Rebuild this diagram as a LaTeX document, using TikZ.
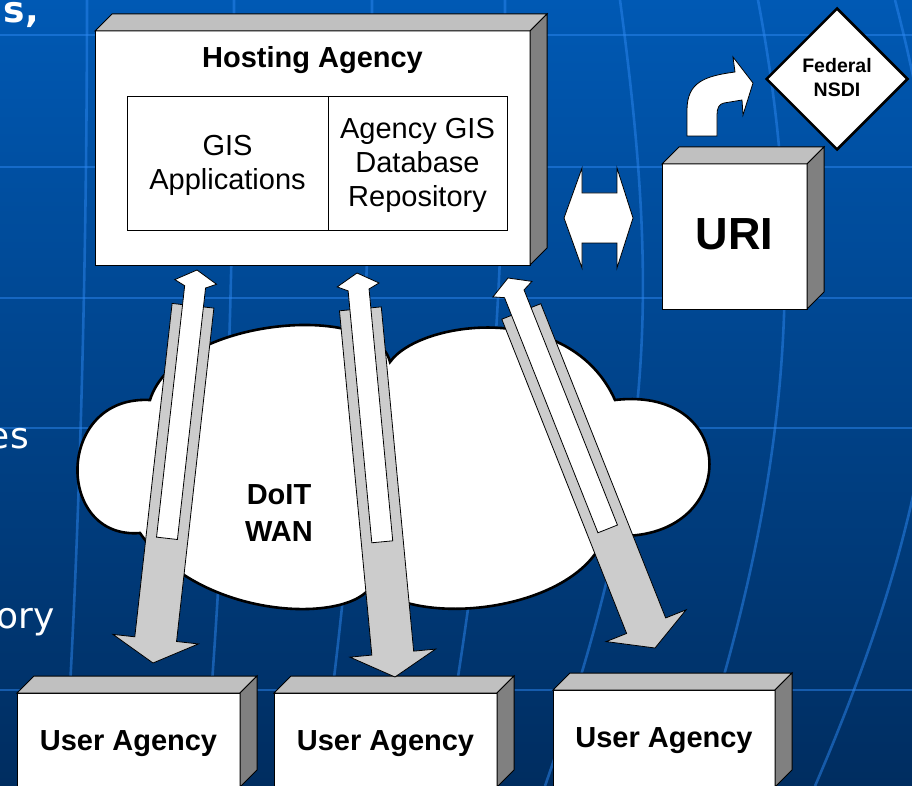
\documentclass[tikz,border=0pt]{standalone}
\usepackage{fontspec}
\setmainfont{Liberation Sans}
\newfontfamily\slidefont{DejaVu Sans}
\usetikzlibrary{calc,shapes.geometric}

\definecolor{bgtop}{RGB}{0,89,180}
\definecolor{bgmid}{RGB}{0,66,138}
\definecolor{bgbot}{RGB}{0,45,96}
\definecolor{gridblue}{RGB}{45,135,240}
\definecolor{facetop}{RGB}{192,192,192}
\definecolor{faceside}{RGB}{128,128,128}
\definecolor{railgray}{RGB}{204,204,204}

\tikzset{
  outline/.style={draw=black, line width=1pt, line join=miter},
  frontface/.style={outline, fill=white, inner sep=0pt, outer sep=0pt},
  topface/.style={outline, fill=facetop},
  sideface/.style={outline, fill=faceside},
  gridline/.style={draw=gridblue, line width=2.6pt, opacity=0.5},
  txt/.style={font=\fontsize{29}{34}\selectfont, inner sep=0pt, anchor=base},
  boldtxt/.style={txt, font=\bfseries\fontsize{29}{34}\selectfont},
  slidetext/.style={text=white, inner sep=0pt, anchor=base east, font=\slidefont\fontsize{36}{40}\selectfont},
  downarrow/.style={outline, line width=0.8pt, fill=railgray},
  uparrow/.style={outline, line width=0.8pt, fill=white},
  blockarrow/.style={outline, line width=0.8pt, fill=white},
  cloudshape/.style={draw=black, line width=2.6pt, fill=white},
}

% front face node plus top and right faces of a raised box
\newcommand\solidbox[5]{%
  \node[frontface, minimum width={(#4)-(#2)}, minimum height={(#5)-(#3)}]
    (#1) at ({((#2)+(#4))/2},{((#3)+(#5))/2}) {};
  \path[topface] (#1.north west) -- ++(17,-17) -- ($(#1.north east)+(17,-17)$)
    -- (#1.north east) -- cycle;
  \path[sideface] (#1.north east) -- ++(17,-17) -- ($(#1.south east)+(17,-17)$)
    -- (#1.south east) -- cycle;
}

% wide grey arrow towards #2 with a slim white arrow towards #1 laid on it
\newcommand\linkpair[2]{%
  \path[downarrow]
    ($(#1)!36pt!(#2)!21pt!90:(#2)$) --
    ($(#1)!36pt!(#2)!21pt!-90:(#2)$) --
    ($(#2)!24pt!(#1)!21pt!-90:(#2)$) --
    ($(#2)!24pt!(#1)!43pt!-90:(#2)$) --
    (#2) --
    ($(#2)!24pt!(#1)!43pt!90:(#2)$) --
    ($(#2)!24pt!(#1)!21pt!90:(#2)$) -- cycle;
  \path[uparrow]
    (#1) --
    ($(#1)!12pt!(#2)!21pt!-90:(#2)$) --
    ($(#1)!17pt!(#2)!10.5pt!-90:(#2)$) --
    ($(#1)!270pt!(#2)!10.5pt!-90:(#2)$) --
    ($(#1)!270pt!(#2)!10.5pt!90:(#2)$) --
    ($(#1)!17pt!(#2)!10.5pt!90:(#2)$) --
    ($(#1)!12pt!(#2)!21pt!90:(#2)$) -- cycle;
}

\begin{document}
\begin{tikzpicture}[x=1pt, y=-1pt]
\useasboundingbox (0,0) rectangle (912,786);
\clip (0,0) rectangle (912,786);

% backdrop
\shade[top color=bgtop, middle color=bgmid, bottom color=bgbot] (0,0) rectangle (912,786);
\foreach \yy in {35,167,298,428,690} \draw[gridline] (0,\yy) -- (912,\yy);
\draw[gridline] (87,0) .. controls (87,200) and (82,520) .. (64,786);
\draw[gridline] (234,0) .. controls (234,250) and (228,500) .. (204,786);
\draw[gridline] (372,0) .. controls (372,250) and (360,500) .. (320,786);
\draw[gridline] (505,0) .. controls (505,300) and (490,500) .. (440,786);
\draw[gridline] (620,0) .. controls (660,300) and (655,470) .. (545,786);
\draw[gridline] (758,0) .. controls (805,250) and (795,470) .. (690,786);
\draw[gridline] (895,0) .. controls (960,250) and (960,450) .. (815,786);

% slide text cut off at the left edge
\node[slidetext, font=\slidefont\bfseries\fontsize{36}{40}\selectfont] (st1) at (39,23) {s,};
\node[slidetext] (st2) at (29,448) {es};
\node[slidetext] (st3) at (55,628) {ory};

% hosting agency
\solidbox{host}{95}{31}{530}{265}
\node[boldtxt] (hostlbl) at (312.5,68) {Hosting Agency};
\node[outline, fill=white, minimum width=380, minimum height=134, inner sep=0pt] (inner) at (317,164) {};
\draw[outline] (328,97) -- (328,231);
\node[txt] (gis1) at (227.5,156) {GIS};
\node[txt] (gis2) at (227.5,190) {Applications};
\node[txt] (db1) at (417.5,139) {Agency GIS};
\node[txt] (db2) at (417.5,173) {Database};
\node[txt] (db3) at (417.5,207) {Repository};

% URI and the federal clearinghouse
\solidbox{uri}{662}{164}{807}{309}
\node[boldtxt, font=\bfseries\fontsize{45}{50}\selectfont] (urilbl) at (734.5,250) {URI};
\node[diamond, draw=black, line width=2.5pt, fill=white, minimum width=142, minimum height=142, inner sep=0pt] (nsdi) at (837,79) {};
\node[boldtxt, font=\bfseries\fontsize{19.5}{24}\selectfont] (nsdi1) at (837,73) {Federal};
\node[boldtxt, font=\bfseries\fontsize{19.5}{24}\selectfont] (nsdi2) at (837,97) {NSDI};

% bent arrow up to the clearinghouse
\path[blockarrow] (687,136) -- (687,110) .. controls (687,82) and (705,76) .. (735,72)
  -- (733,57) -- (753,83) -- (743,115) -- (742,100) -- (724,103)
  .. controls (719,104) and (717,108) .. (717,115) -- (717,136) -- cycle;

% two-way exchange between hosting agency and URI
\path[blockarrow] (564,218) -- (582,168) -- (582,193) -- (617,193) -- (617,168)
  -- (633,218) -- (617,268) -- (617,243) -- (582,243) -- (582,268) -- cycle;

% user agencies
\solidbox{user1}{17}{693}{240}{787}
\node[boldtxt] (u1) at (128.5,750) {User Agency};
\solidbox{user2}{274}{693}{497}{787}
\node[boldtxt] (u2) at (385.5,750) {User Agency};
\solidbox{user3}{553}{690}{775}{787}
\node[boldtxt] (u3) at (664,747) {User Agency};

% wide area network cloud
\path[cloudshape] (140,533) .. controls (55,540) and (55,395) .. (150,400)
  .. controls (175,318) and (375,300) .. (390,362)
  .. controls (420,320) and (570,300) .. (615,400)
  .. controls (745,385) and (740,550) .. (605,535)
  .. controls (580,610) and (420,630) .. (372,585)
  .. controls (350,625) and (200,620) .. (140,533) -- cycle;
\node[boldtxt] (wan1) at (279,504) {DoIT};
\node[boldtxt] (wan2) at (279,541) {WAN};

% links between the hosting agency and each user agency
\coordinate (t1) at (197,270); \coordinate (b1) at (153,663);
\coordinate (t2) at (357,273); \coordinate (b2) at (395,677);
\coordinate (t3) at (508,278); \coordinate (b3) at (655,648);
\linkpair{t1}{b1}
\linkpair{t2}{b2}
\linkpair{t3}{b3}
\end{tikzpicture}
\end{document}
